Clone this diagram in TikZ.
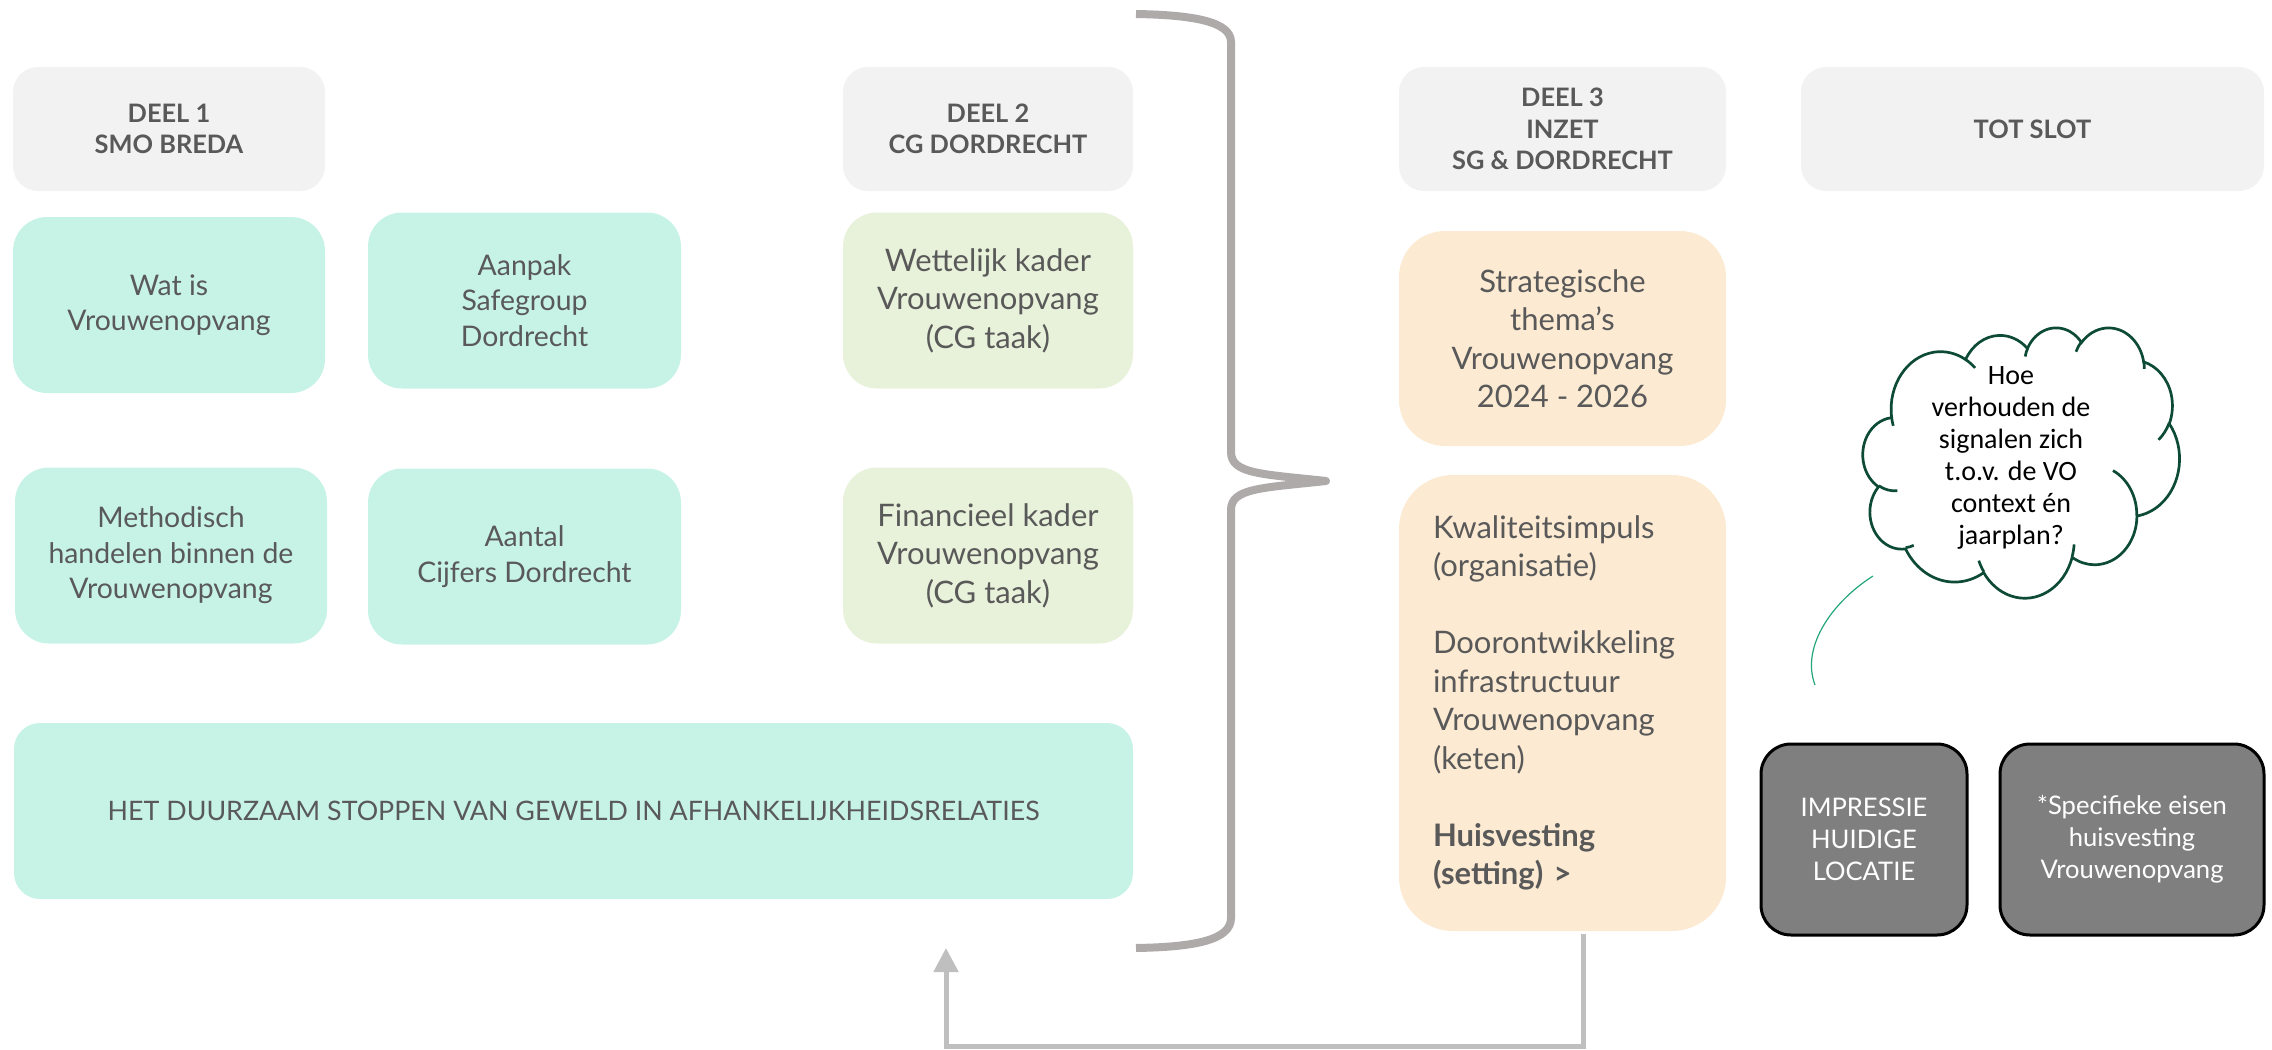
\documentclass[tikz,border=0pt]{standalone}
\usepackage{fontspec}
\setmainfont{Lato}
\newfontfamily\calib{Carlito}
\usetikzlibrary{arrows.meta}
\definecolor{hdr}{HTML}{F2F2F2}
\definecolor{mint}{HTML}{C7F3E6}
\definecolor{lgreen}{HTML}{E8F2DA}
\definecolor{peach}{HTML}{FCEAD2}
\definecolor{dgray}{HTML}{7F7F7F}
\definecolor{txt}{HTML}{595959}
\definecolor{bracec}{HTML}{AEAAAA}
\definecolor{arrowc}{HTML}{BFBFBF}
\definecolor{cloudc}{HTML}{0E4B36}
\definecolor{tailc}{HTML}{22A67A}
% elliptical arc with "visual" start angle and sweep (DrawingML arcTo)
\newcommand\carc[4]{arc[x radius=#1, y radius=#2,
  start angle={atan2(#1*sin(#3),#2*cos(#3))},
  delta angle={mod(atan2(#1*sin(#3+#4),#2*cos(#3+#4))-atan2(#1*sin(#3),#2*cos(#3))+720,360)}]}
\begin{document}
\begin{tikzpicture}[x=0.5pt,y=-0.5pt,
  base/.style={inner sep=0pt, align=center, text=txt},
  hdrbox/.style={base, fill=hdr, rounded corners=12.5pt, minimum height=62pt,
    font=\fontsize{12.7}{15.75}\selectfont\bfseries},
  cardA/.style={base, fill=mint, rounded corners=17pt, minimum height=88pt,
    font=\fontsize{14.2}{17.75}\selectfont},
  cardB/.style={base, fill=lgreen, rounded corners=17pt, minimum height=88pt,
    font=\fontsize{15.5}{19.25}\selectfont},
  darkbox/.style={base, fill=dgray, draw=black, line width=1.5pt, rounded corners=15pt,
    minimum height=95.5pt, text=white, font=\fontsize{12.8}{16}\selectfont},
  cloudline/.style={draw=cloudc, line width=1.35pt},
  bracestyle/.style={draw=bracec, line width=4pt, line join=round},
  loopstyle/.style={draw=arrowc, line width=2.5pt, -{Triangle[length=12pt,width=12pt]}},
]
\useasboundingbox (0,0) rectangle (2272,1050);
% headers
\node[hdrbox, minimum width=156pt] (h1) at (169,129) {DEEL 1\\SMO BREDA};
\node[hdrbox, minimum width=145pt] (h2) at (988,129) {DEEL 2\\CG DORDRECHT};
\node[hdrbox, minimum width=163.5pt] (h3) at (1562.5,129) {DEEL 3\\INZET\\SG \& DORDRECHT};
\node[hdrbox, minimum width=231.5pt] (h4) at (2032.5,129) {TOT SLOT};
% deel 1 cards
\node[cardA, minimum width=156pt] (watis) at (169,305) {Wat is\\Vrouwenopvang};
\node[cardA, minimum width=156.5pt] (aanpak) at (524.5,300.5) {Aanpak\\Safegroup\\Dordrecht};
\node[cardA, minimum width=156pt] (method) at (171,555.5) {Methodisch\\handelen binnen de\\Vrouwenopvang};
\node[cardA, minimum width=156.5pt] (aantal) at (524.5,556.5) {Aantal\\Cijfers Dordrecht};
% deel 2 cards
\node[cardB, minimum width=145pt] (wet) at (988,300.5) {Wettelijk kader\\Vrouwenopvang\\(CG taak)};
\node[cardB, minimum width=145pt] (fin) at (988,555.5) {Financieel kader\\Vrouwenopvang\\(CG taak)};
% wide card
\node[cardA, minimum width=559.5pt, rounded corners=13pt, font=\fontsize{13.4}{15}\selectfont] (doel) at (573.5,811)
  {HET DUURZAAM STOPPEN VAN GEWELD IN AFHANKELIJKHEIDSRELATIES};
% deel 3
\node[cardB, fill=peach, rounded corners=23pt, minimum width=163.5pt, minimum height=107.5pt] (strat) at (1562.5,338.5)
  {Strategische\\thema’s\\Vrouwenopvang\\2024 - 2026};
\node[cardB, fill=peach, rounded corners=27pt, minimum width=163.5pt, minimum height=228pt,
  align=left, text width=129.5pt, inner xsep=17pt] (kwal) at (1562.5,703)
  {Kwaliteitsimpuls\\(organisatie)\\[19.25pt]Doorontwikkeling\\infrastructuur\\Vrouwenopvang\\(keten)\\[19.25pt]\textbf{Huisvesting}\\\textbf{(setting) >}};
% tot slot
\node[darkbox, minimum width=103pt] (impr) at (1864,839.5) {IMPRESSIE\\HUIDIGE\\LOCATIE};
\node[darkbox, minimum width=132pt] (spec) at (2132,839.5) {*Specifieke eisen\\huisvesting\\Vrouwenopvang};
% cloud (DrawingML cloud geometry, 43200 units -> 316 x 270 px)
\begin{scope}[shift={(1863,327)}, x=0.0036574pt, y=-0.003125pt]
\path[cloudline, fill=white] (3900,14370)
  \carc{6753}{9190}{-190.4875}{123.7805}
  \carc{5333}{7267}{-144.1024}{89.9452}
  \carc{4365}{5945}{-145.8079}{99.7230}
  \carc{4857}{6595}{-130.9861}{117.2417}
  \carc{5333}{7273}{-78.7089}{109.0269}
  \carc{6775}{9220}{-46.2673}{130.2690}
  \carc{5785}{7867}{0.6250}{114.0333}
  \carc{6752}{9215}{22.4516}{115.1726}
  \carc{7720}{10543}{66.2426}{75.7110}
  \carc{4360}{5918}{-274.9421}{146.7356}
  \carc{4345}{5945}{-246.8285}{152.5189}
  -- cycle;
\path[cloudline]
  (4693,26177) \carc{4345}{5945}{86.7420}{26.4295}
  (6928,34899) \carc{4360}{5918}{73.6105}{11.4475}
  (16478,39090) \carc{6752}{9215}{137.6242}{14.0811}
  (28827,34751) \carc{6752}{9215}{6.4533}{15.9984}
  (34129,22954) \carc{5785}{7867}{-70.2924}{70.9174}
  (41798,15354) \carc{5333}{7273}{30.3180}{27.7515}
  (38324,5426) \carc{4857}{6595}{-13.7443}{14.8589}
  (29078,3952) \carc{4857}{6595}{-149.1815}{18.1954}
  (22141,4720) \carc{4365}{5945}{-163.4943}{17.6864}
  (14000,5192) \carc{6753}{9190}{-66.7070}{12.3194}
  (4127,15789) \carc{6753}{9190}{157.6544}{11.8582};
\end{scope}
\node[font=\calib\fontsize{14}{16}\selectfont, align=center, inner sep=0pt] (cloudtxt) at (2011,458)
  {Hoe\\verhouden de\\signalen zich\\t.o.v. de VO\\context én\\jaarplan?};
\coordinate (tailtop) at (1873,576);
\coordinate (tailend) at (1815,685);
\draw[tailc, line width=0.6pt] (tailtop) .. controls (1835,600) and (1800,645) .. (tailend);
% brace
\coordinate (btop) at (1136,14);
\coordinate (btip) at (1326,481);
\coordinate (bbot) at (1136,948);
\path[bracestyle] (btop) .. controls (1195,15) and (1231,22) .. (1231,42) -- (1231,452)
  .. controls (1231,474) and (1262,474) .. (btip)
  .. controls (1262,488) and (1231,488) .. (1231,510) -- (1231,918)
  .. controls (1231,940) and (1195,947) .. (bbot);
% loop arrow
\coordinate (kout) at ([xshift=10.25pt, yshift=-1.5pt]kwal.south);
\coordinate (lcorner) at (946,1046);
\coordinate (ltip) at (946,948);
\draw[loopstyle] (kout) |- (lcorner) -- (ltip);
\end{tikzpicture}
\end{document}
